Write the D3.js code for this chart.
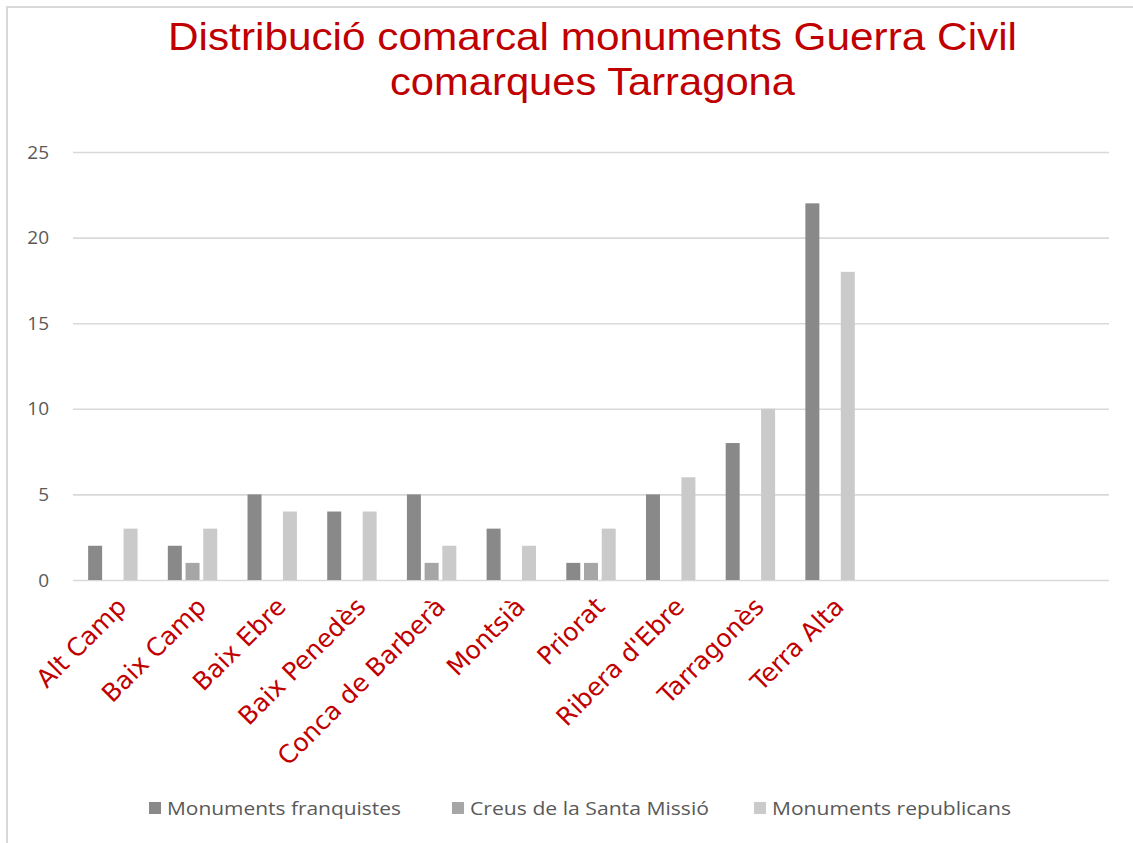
<!DOCTYPE html>
<html>
<head>
<meta charset="utf-8">
<script src="https://cdn.jsdelivr.net/npm/d3@7"></script>
<style>
  html, body { margin: 0; padding: 0; background: #fff; }
  svg { display: block; }
</style>
</head>
<body>
<svg id="chart" width="1133" height="843"></svg>
<script>
// Comarques (three trailing empty slots keep the category axis width)
const comarques = ["Alt Camp", "Baix Camp", "Baix Ebre", "Baix Penedès", "Conca de Barberà",
  "Montsià", "Priorat", "Ribera d'Ebre", "Tarragonès", "Terra Alta"];
const emptySlots = ["_e1", "_e2", "_e3"];

const seriesNames = ["Monuments franquistes", "Creus de la Santa Missió", "Monuments republicans"];
const franquistes = [2, 2, 5, 4, 5, 3, 1, 5, 8, 22];
const creus       = [0, 1, 0, 0, 1, 0, 1, 0, 0, 0];
const republicans = [3, 3, 4, 4, 2, 2, 3, 6, 10, 18];
const seriesColors = ["#898989", "#a6a6a6", "#cacaca"];

const yTicks = [0, 5, 10, 15, 20, 25];
const titleLines = ["Distribució comarcal monuments Guerra Civil", "comarques Tarragona"];

const seriesValues = [franquistes, creus, republicans];
const rows = comarques.map((c, i) => ({
  comarca: c,
  values: seriesNames.map((s, k) => ({ key: s, value: seriesValues[k][i], color: seriesColors[k] }))
}));

const svg = d3.select("#chart");
const W = 1133, H = 843;

svg.append("rect").attr("width", W).attr("height", H).attr("fill", "#fff");

// outer frame (top and left edges)
svg.append("line").attr("x1", 6).attr("x2", W).attr("y1", 7).attr("y2", 7)
  .attr("stroke", "#d9d9d9").attr("stroke-width", 2);
svg.append("line").attr("x1", 7).attr("x2", 7).attr("y1", 6).attr("y2", H)
  .attr("stroke", "#d9d9d9").attr("stroke-width", 2);

// title, two centred lines
const titleWidths = [849, 405];
svg.append("g").selectAll("text")
  .data(titleLines)
  .join("text")
  .attr("x", 592.5)
  .attr("y", (d, i) => 50 + i * 45)
  .attr("text-anchor", "middle")
  .attr("fill", "#c00000")
  .attr("textLength", (d, i) => titleWidths[i])
  .attr("lengthAdjust", "spacingAndGlyphs")
  .style("font-family", "'Liberation Sans', Arial, sans-serif")
  .style("font-size", "39px")
  .text(d => d);

const plot = { left: 73, right: 1109, top: 152, bottom: 580 };

const x0 = d3.scaleBand()
  .domain(comarques.concat(emptySlots))
  .range([plot.left, plot.right])
  .paddingInner(0).paddingOuter(0);

const x1 = d3.scaleBand()
  .domain(seriesNames)
  .range([x0.bandwidth() * 0.19, x0.bandwidth() * 0.81])
  .paddingInner(0.21).paddingOuter(0);

const y = d3.scaleLinear().domain([0, 25]).range([plot.bottom, plot.top]);

// gridlines
const grid = svg.append("g")
  .attr("transform", `translate(${plot.left},0)`)
  .call(d3.axisLeft(y).tickValues(yTicks).tickSize(-(plot.right - plot.left)).tickFormat(""));
grid.select(".domain").remove();
grid.selectAll("line").attr("stroke", "#d9d9d9").attr("stroke-width", 1.6);

// y-axis labels
const yAxis = svg.append("g")
  .attr("transform", `translate(49,0)`)
  .call(d3.axisLeft(y).tickValues(yTicks).tickSize(0).tickPadding(0));
yAxis.select(".domain").remove();
yAxis.selectAll("text")
  .attr("fill", "#595959")
  .style("font-family", "'Open Sans', sans-serif")
  .style("font-size", "19px");

// bars
const groups = svg.append("g").selectAll("g")
  .data(rows)
  .join("g")
  .attr("transform", d => `translate(${x0(d.comarca)},0)`);

groups.selectAll("rect")
  .data(d => d.values.filter(v => v.value > 0))
  .join("rect")
  .attr("x", d => x1(d.key))
  .attr("width", x1.bandwidth())
  .attr("y", d => y(d.value))
  .attr("height", d => y(0) - y(d.value))
  .attr("fill", d => d.color);

// category labels, rotated
const xAxis = svg.append("g")
  .attr("transform", `translate(0,${plot.bottom})`)
  .call(d3.axisBottom(x0).tickSize(0).tickPadding(0)
    .tickFormat(d => d.startsWith("_e") ? "" : d));
xAxis.select(".domain").remove();
xAxis.selectAll("text")
  .attr("fill", "#c00000")
  .style("font-family", "'DejaVu Sans', Verdana, sans-serif")
  .style("font-size", "25px")
  .attr("text-anchor", "end")
  .attr("dy", "0.35em")
  .attr("transform", "translate(9,22) rotate(-45)");

// legend
const legendItems = [
  { name: seriesNames[0], color: seriesColors[0], x: 149, w: 234 },
  { name: seriesNames[1], color: seriesColors[1], x: 452, w: 239 },
  { name: seriesNames[2], color: seriesColors[2], x: 754, w: 239 }
];
const legend = svg.append("g").selectAll("g")
  .data(legendItems)
  .join("g")
  .attr("transform", d => `translate(${d.x},802)`);
legend.append("rect").attr("width", 12).attr("height", 12).attr("fill", d => d.color);
legend.append("text")
  .attr("x", 18).attr("y", 6).attr("dy", "0.35em")
  .attr("fill", "#595959")
  .attr("textLength", d => d.w)
  .attr("lengthAdjust", "spacingAndGlyphs")
  .style("font-family", "'Open Sans', sans-serif")
  .style("font-size", "19px")
  .text(d => d.name);
</script>
</body>
</html>
